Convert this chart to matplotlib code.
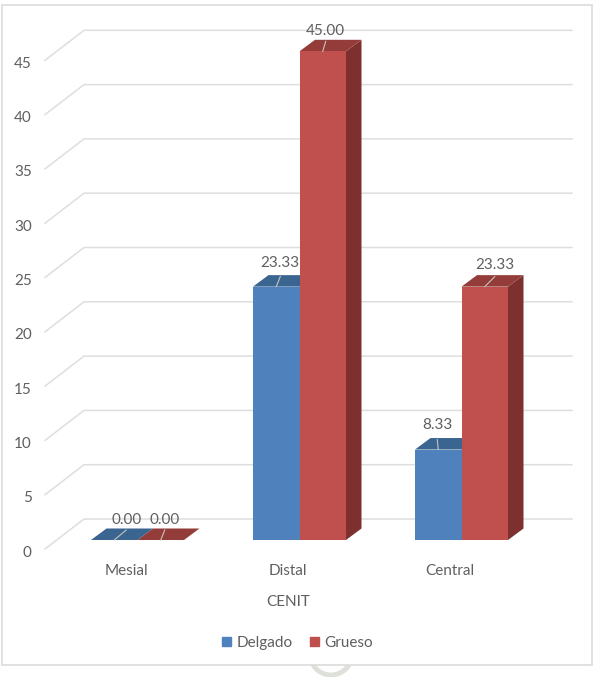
import matplotlib
matplotlib.use("Agg")
import matplotlib.pyplot as plt
from matplotlib.patches import Ellipse, Patch, Polygon, Rectangle
from matplotlib.transforms import ScaledTranslation

plt.rcParams["font.family"] = ["Lato", "DejaVu Sans"]

categories = ["Mesial", "Distal", "Central"]
delgado = [0.00, 23.33, 8.33]
grueso = [0.00, 45.00, 23.33]
y_ticks = [0, 5, 10, 15, 20, 25, 30, 35, 40, 45]

W, H = 593, 677
FS = 11
TEXT = "#5F5F5F"
GRID = "#DEDEDE"
BLUE = {"front": "#4F81BD", "top": "#3A6590", "side": "#2F5582"}
RED = {"front": "#C0504D", "top": "#943C3A", "side": "#7D302D"}

fig = plt.figure(figsize=(W / 100, H / 100), dpi=100, facecolor="white")

# Pale seal peeking out from under the bottom edge of the frame
fig.add_artist(Ellipse((331 / W, 1 - 654 / H), 42 / W, 42 / H, transform=fig.transFigure,
                       facecolor="none", edgecolor="#DDE1DA", linewidth=3.5, zorder=-2))

# Outer chart frame, kept behind the axes
fig.add_artist(Rectangle((1.5 / W, 1 - 665 / H), 590.5 / W, 660.5 / H, transform=fig.transFigure,
                         facecolor="white", edgecolor="#DCDCDC", linewidth=1.2, zorder=-1))

# Front floor edge of the plot box runs from x=45 to x=531, y=549 upward
ax = fig.add_axes([45 / W, 1 - 549 / H, 486 / W, 488.7 / H])
ax.set_xlim(-0.5, 2.5)
ax.set_ylim(0, 45)
ax.patch.set_alpha(0)
for s in ax.spines.values():
    s.set_visible(False)

px_x = 486 / 3
px_y = 488.7 / 45

# Oblique projection: wall depth and bar depth, converted to data units
wall_dx, wall_dy = 39 / px_x, 30 / px_y
wall_right = 2.5 + 41 / px_x
bar_x0, bar_y0 = 11.5 / px_x, 9 / px_y
bar_dx, bar_dy = 15.5 / px_x, 11.5 / px_y
bar_w = 46.5 / px_x

for v in y_ticks:
    ax.plot([-0.5, -0.5 + wall_dx, wall_right], [v, v + wall_dy, v + wall_dy],
            color=GRID, lw=1.1, clip_on=False, zorder=1, solid_joinstyle="miter")


def draw_bar(x0, value, colors, z):
    y0 = bar_y0
    top = y0 + value
    x1 = x0 + bar_w
    if value > 0:
        ax.add_patch(Polygon([(x1, y0), (x1 + bar_dx, y0 + bar_dy), (x1 + bar_dx, top + bar_dy), (x1, top)],
                             facecolor=colors["side"], edgecolor="none", clip_on=False, zorder=z))
        ax.add_patch(Rectangle((x0, y0), bar_w, value, facecolor=colors["front"], edgecolor="none",
                               clip_on=False, zorder=z + 0.2))
    ax.add_patch(Polygon([(x0, top), (x1, top), (x1 + bar_dx, top + bar_dy), (x0 + bar_dx, top + bar_dy)],
                         facecolor=colors["top"], edgecolor="none", clip_on=False, zorder=z + 0.1))


# Data labels sit beside the bar top, tied back with a short leader line
label_offsets = {
    "delgado": [(12, 20), (4, 24), (-1, 25)],
    "grueso": [(4, 20), (3, 20), (10, 22)],
}


def draw_label(x, value, offset):
    y = bar_y0 + value
    dx, dy = offset
    ax.annotate(f"{value:.2f}", xy=(x, y), xycoords="data", xytext=(dx, dy), textcoords="offset pixels",
                ha="center", va="center", fontsize=FS, color=TEXT, zorder=20, annotation_clip=False)
    ax.plot([x, x + dx / px_x], [y, y + 10 / px_y], color="#C9C3BD", lw=0.8, clip_on=False, zorder=15)


for i, (a, b) in enumerate(zip(delgado, grueso)):
    xb = i + bar_x0 - bar_w
    xr = i + bar_x0
    draw_bar(xb, a, BLUE, 5 + i)
    draw_bar(xr, b, RED, 5.5 + i)
    draw_label(xb + bar_w / 2, a, label_offsets["delgado"][i])
    draw_label(xr + bar_w / 2, b, label_offsets["grueso"][i])

ax.set_yticks(y_ticks)
ax.set_xticks(range(len(categories)), categories)
ax.tick_params(axis="y", length=0, pad=9.5, labelsize=FS, labelcolor=TEXT)
ax.tick_params(axis="x", length=0, pad=11, labelsize=FS, labelcolor=TEXT)
ax.set_xlabel("CENIT", fontsize=FS, color=TEXT, labelpad=12)

# Nudge the value labels down so they line up with the front floor edge
nudge = ScaledTranslation(0, -1.5 / 72, fig.dpi_scale_trans)
for label in ax.get_yticklabels():
    label.set_transform(label.get_transform() + nudge)

ax.legend(handles=[Patch(color=BLUE["front"], label="Delgado"), Patch(color=RED["front"], label="Grueso")],
          loc="center", bbox_to_anchor=(297.5 / W, 1 - 643 / H), bbox_transform=fig.transFigure,
          ncol=2, frameon=False, fontsize=FS, labelcolor=TEXT, handlelength=0.6, handleheight=0.6,
          handletextpad=0.35, columnspacing=1.15, borderpad=0, borderaxespad=0)

fig.savefig("out.png", dpi=100, facecolor="white")
